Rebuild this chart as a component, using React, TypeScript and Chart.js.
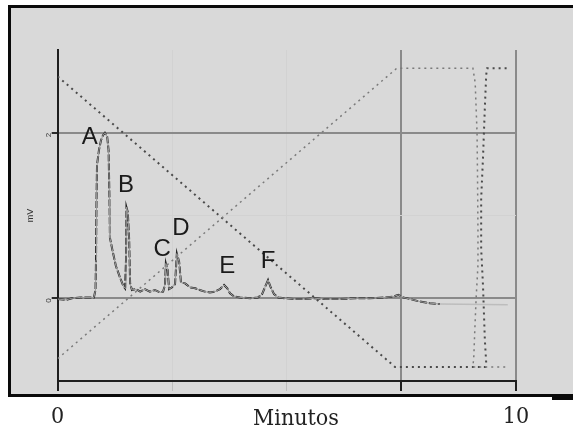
import React, { useEffect, useRef } from "react";
import { Chart, registerables } from "chart.js";

Chart.register(...registerables);

// Chromatogram signal (time in minutes, signal in mV)
const signalTime = [
  0, 0.18, 0.31, 0.49, 0.79, 0.825, 0.836, 0.847, 0.858, 0.9, 0.945, 0.99, 1.03, 1.08, 1.11, 1.13, 1.14,
  1.21, 1.27, 1.36, 1.43, 1.47, 1.49, 1.5, 1.53, 1.56, 1.58, 1.62, 1.71, 1.8, 1.9, 2.01, 2.12, 2.23,
  2.3, 2.34, 2.36, 2.4, 2.43, 2.49, 2.56, 2.6, 2.65, 2.69, 2.78, 2.89, 3.0, 3.1, 3.21, 3.32, 3.43,
  3.54, 3.63, 3.7, 3.76, 3.85, 3.98, 4.2, 4.37, 4.46, 4.52, 4.59, 4.65, 4.72, 4.81, 4.96, 5.18, 5.4,
  5.61, 5.83, 6.16, 6.49, 6.81, 7.14, 7.32, 7.43, 7.54, 7.69, 7.9, 8.12, 8.34,
];
const signalMv = [
  -0.01, -0.02, 0, 0.01, 0.01, 0.1, 0.46, 1.19, 1.61, 1.79, 1.91, 1.97, 2.0, 1.95, 1.79, 1.19, 0.73,
  0.54, 0.39, 0.25, 0.15, 0.12, 0.46, 1.1, 1.04, 0.7, 0.18, 0.1, 0.11, 0.08, 0.11, 0.08, 0.1, 0.07,
  0.08, 0.16, 0.42, 0.34, 0.11, 0.13, 0.17, 0.54, 0.44, 0.19, 0.18, 0.13, 0.12, 0.1, 0.08, 0.07, 0.08,
  0.11, 0.16, 0.12, 0.06, 0.02, 0.01, 0, 0.01, 0.05, 0.13, 0.22, 0.13, 0.05, 0.01, 0, -0.01, -0.01,
  0, -0.01, -0.01, 0, 0, 0.01, 0.02, 0.04, 0.01, -0.01, -0.04, -0.06, -0.07,
];
// Faint continuation of the baseline
const tailTime = [8.34, 9.82];
const tailMv = [-0.07, -0.08];

// Gradient traces (drawn on the same axes)
const gradUpTime = [0, 7.4, 9.06, 9.11, 9.15, 9.16, 9.17, 9.17, 9.13, 9.1, 9.08, 9.06, 9.82];
const gradUpMv = [-0.73, 2.78, 2.78, 2.6, 2.0, 1.5, 0.8, 0.4, 0.0, -0.4, -0.7, -0.83, -0.83];
const gradDownTime = [0, 7.36, 9.06, 9.33, 9.35, 9.32, 9.28, 9.24, 9.24, 9.28, 9.32, 9.35, 9.37, 9.82];
const gradDownMv = [2.68, -0.83, -0.83, -0.83, -0.78, -0.5, 0.15, 0.6, 1.2, 1.7, 2.3, 2.7, 2.78, 2.78];

// Peak labels
const peakNames = ["A", "B", "C", "D", "E", "F"];
const peakLabelTime = [0.7, 1.49, 2.28, 2.69, 3.7, 4.59];
const peakLabelMv = [1.95, 1.36, 0.59, 0.84, 0.39, 0.44];

// Axis
const xMin = 0;
const xMax = 10;
const xStep = 2.5;
const yMin = -1;
const yMax = 3;
const xLabelText = "Minutos";
const yLabelText = "mV";

const pts = (xs: number[], ys: number[]) => xs.map((x, i) => ({ x, y: ys[i] }));

const frame = {
  id: "frame",
  beforeDraw(chart: any) {
    const ctx = chart.ctx;
    ctx.save();
    ctx.fillStyle = "#ffffff";
    ctx.fillRect(0, 0, chart.width, chart.height);
    ctx.fillStyle = "#d9d9d9";
    ctx.fillRect(11, 8, chart.width - 11, 386);
    ctx.fillStyle = "#0a0a0a";
    ctx.fillRect(8, 5, chart.width - 8, 3);
    ctx.fillRect(8, 5, 3, 392);
    ctx.fillRect(8, 394, chart.width - 8, 3);
    ctx.fillRect(552, 396, chart.width - 552, 4);
    ctx.restore();
  },
};

const annotations = {
  id: "annotations",
  afterDatasetsDraw(chart: any) {
    const ctx = chart.ctx;
    const xs = chart.scales.x;
    const ys = chart.scales.y;
    ctx.save();
    ctx.fillStyle = "#1a1a1a";
    ctx.font = '24px "Liberation Sans", Arial, sans-serif';
    ctx.textAlign = "center";
    ctx.textBaseline = "middle";
    peakNames.forEach((n, i) => {
      ctx.fillText(n, xs.getPixelForValue(peakLabelTime[i]), ys.getPixelForValue(peakLabelMv[i]));
    });
    ctx.fillStyle = "#222222";
    ctx.font = '23px "DejaVu Serif Condensed", "DejaVu Serif", serif';
    ctx.textBaseline = "alphabetic";
    ctx.fillText(xLabelText, 296, 425);
    ctx.restore();
  },
};

export default function App() {
  const ref = useRef<HTMLCanvasElement | null>(null);
  useEffect(() => {
    if (!ref.current) return;
    const chart = new Chart(ref.current, {
      type: "scatter",
      data: {
        datasets: [
          {
            data: pts(gradUpTime, gradUpMv),
            showLine: true,
            borderColor: "#7a7a7a",
            borderWidth: 1.5,
            borderDash: [2, 4],
            pointRadius: 0,
            tension: 0,
          },
          {
            data: pts(gradDownTime, gradDownMv),
            showLine: true,
            borderColor: "#4a4a4a",
            borderWidth: 2,
            borderDash: [2, 4],
            pointRadius: 0,
            tension: 0,
          },
          {
            data: pts(tailTime, tailMv),
            showLine: true,
            borderColor: "#bdbdbd",
            borderWidth: 1.5,
            pointRadius: 0,
          },
          {
            data: pts(signalTime, signalMv),
            showLine: true,
            borderColor: "#9c9c9c",
            borderWidth: 1,
            pointRadius: 0,
          },
          {
            data: pts(signalTime, signalMv),
            showLine: true,
            borderColor: "#262626",
            borderWidth: 2,
            borderDash: [7, 2],
            pointRadius: 0,
          },
        ],
      },
      options: {
        responsive: false,
        animation: false,
        events: [],
        layout: { padding: { left: 20, right: 57, top: 50, bottom: 0 } },
        plugins: { legend: { display: false }, tooltip: { enabled: false } },
        scales: {
          x: {
            type: "linear",
            min: xMin,
            max: xMax,
            afterFit: (s: any) => {
              s.height = 48;
            },
            ticks: {
              stepSize: xStep,
              maxRotation: 0,
              padding: 12,
              color: "#222222",
              font: { family: '"DejaVu Serif Condensed", "DejaVu Serif", serif', size: 23 },
              callback: (v: any) => (v === xMin ? "0" : v === xMax ? "10" : ""),
            },
            border: { display: true, color: "#1e1e1e", width: 2 },
            grid: {
              lineWidth: (c: any) => {
                const v = c.tick ? c.tick.value : null;
                return v === 2.5 || v === 5 ? 1 : 2;
              },
              tickLength: 10,
              color: (c: any) => {
                const v = c.tick ? c.tick.value : null;
                if (v === 7.5 || v === 10) return "#8a8a8a";
                if (v === 2.5 || v === 5) return "#d2d2d2";
                return "rgba(0,0,0,0)";
              },
              tickColor: (c: any) => {
                const v = c.tick ? c.tick.value : null;
                if (v === 0 || v === 7.5 || v === 10) return "#1e1e1e";
                return "#bdbdbd";
              },
            },
          },
          y: {
            type: "linear",
            min: yMin,
            max: yMax,
            afterFit: (s: any) => {
              s.width = 37.7;
            },
            title: {
              display: true,
              text: yLabelText,
              color: "#333333",
              font: { size: 9 },
              padding: { top: 5, bottom: 0 },
            },
            ticks: {
              stepSize: 1,
              minRotation: 90,
              maxRotation: 90,
              padding: 3,
              color: "#333333",
              font: { size: 8 },
              callback: (v: any) => (v === 0 ? "0" : v === 2 ? "2" : ""),
            },
            border: { display: true, color: "#1e1e1e", width: 2 },
            grid: {
              lineWidth: (c: any) => {
                const v = c.tick ? c.tick.value : null;
                return v === 1 ? 1 : 2;
              },
              tickLength: 6,
              color: (c: any) => {
                const v = c.tick ? c.tick.value : null;
                if (v === 0 || v === 2) return "#8a8a8a";
                if (v === 1) return "#d2d2d2";
                return "rgba(0,0,0,0)";
              },
              tickColor: (c: any) => {
                const v = c.tick ? c.tick.value : null;
                if (v === 0 || v === 2) return "#2a2a2a";
                return "rgba(0,0,0,0)";
              },
            },
          },
        },
      },
      plugins: [frame, annotations],
    });
    return () => chart.destroy();
  }, []);
  return (
    <div style={{ position: "absolute", left: 0, top: 0, width: 573, height: 429 }}>
      <canvas ref={ref} width={573} height={429} />
    </div>
  );
}
